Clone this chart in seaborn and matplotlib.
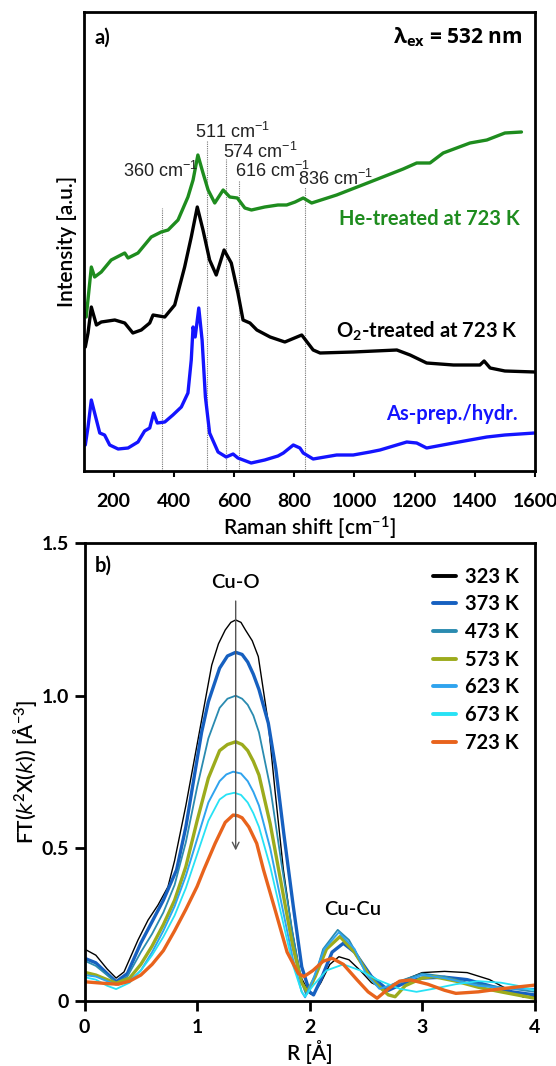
import matplotlib
matplotlib.use("Agg")
import numpy as np
import pandas as pd
import seaborn as sns
import matplotlib.pyplot as plt
from matplotlib.lines import Line2D

# ---------------- Panel a data (Raman) ----------------
he_shift = [109, 126, 137, 159, 192, 237, 248, 281, 325, 358, 381, 414, 447, 464, 480, 497, 514,
            536, 564, 586, 611, 636, 658, 702, 746, 775, 803, 830, 858, 941, 1052, 1162, 1207,
            1251, 1295, 1384, 1440, 1500, 1555]
he_int = [154, 204, 194, 199, 211, 218, 213, 218, 234, 239, 241, 251, 274, 291, 316, 298, 281,
          268, 281, 274, 273, 263, 261, 264, 266, 266, 269, 273, 268, 276, 289, 302, 308,
          308, 318, 328, 331, 338, 339]

o2_shift = [106, 115, 126, 143, 159, 204, 237, 264, 292, 320, 331, 370, 403, 436, 458, 478, 497,
            519, 541, 567, 591, 613, 630, 653, 676, 720, 769, 825, 863, 886, 996, 1141, 1185,
            1240, 1329, 1417, 1431, 1451, 1500, 1599]
o2_int = [124, 138, 164, 146, 149, 151, 148, 138, 141, 148, 156, 154, 166, 204, 234, 264, 241,
          211, 196, 221, 208, 178, 151, 148, 141, 134, 129, 136, 121, 118, 119, 121, 116,
          108, 106, 106, 110, 103, 100, 99]

ap_shift = [106, 115, 126, 137, 154, 170, 187, 215, 248, 281, 303, 320, 333, 345, 370, 397, 425,
            447, 458, 464, 471, 483, 494, 505, 519, 547, 574, 597, 613, 657, 702, 746, 764,
            797, 819, 830, 863, 941, 996, 1052, 1085, 1174, 1207, 1240, 1329, 1384, 1440,
            1500, 1599]
ap_int = [26, 44, 71, 58, 38, 36, 26, 22, 23, 29, 40, 43, 58, 48, 49, 56, 64,
          78, 111, 144, 134, 163, 131, 74, 38, 19, 14, 17, 13, 8, 11, 15, 18,
          26, 23, 18, 12, 16, 16, 19, 21, 29, 28, 23, 28, 31, 34,
          36, 38]

peak_pos = [360, 511, 574, 616, 836]
peak_top = [263, 331, 312, 291, 284]
peak_lbl_x = [231, 470, 563, 602, 814]
peak_lbl_y = [294, 333, 313, 294, 286]

raman_ticks = [200, 400, 600, 800, 1000, 1200, 1400, 1600]

# ---------------- Panel b data (EXAFS FT) ----------------
temps = ["323 K", "373 K", "473 K", "573 K", "623 K", "673 K", "723 K"]

r_323 = [0, 0.1, 0.2, 0.28, 0.35, 0.475, 0.564, 0.652, 0.741, 0.8, 0.9, 1.0, 1.13, 1.19, 1.25, 1.30,
         1.343, 1.39, 1.43, 1.49, 1.544, 1.633, 1.692, 1.767, 1.84, 1.92, 2.0, 2.03, 2.1, 2.18,
         2.26, 2.35, 2.45, 2.55, 2.68, 2.85, 3.0, 3.2, 3.4, 3.6, 3.8, 3.9, 4.0]
ft_323 = [0.170, 0.150, 0.105, 0.075, 0.095, 0.20, 0.265, 0.314, 0.374, 0.46, 0.64, 0.84, 1.10, 1.17, 1.215, 1.24,
          1.248, 1.24, 1.215, 1.18, 1.128, 0.91, 0.691, 0.43, 0.24, 0.08, 0.025, 0.02, 0.06, 0.12,
          0.145, 0.135, 0.10, 0.06, 0.036, 0.07, 0.093, 0.097, 0.093, 0.07, 0.03, 0.013, 0.015]

r_373 = [0, 0.1, 0.2, 0.28, 0.38, 0.5, 0.6, 0.7, 0.818, 0.9, 1.04, 1.1, 1.2, 1.27, 1.343, 1.40,
         1.45, 1.5, 1.55, 1.633, 1.7, 1.77, 1.855, 1.93, 2.0, 2.035, 2.1, 2.2, 2.3, 2.4, 2.55,
         2.7, 2.85, 3.0, 3.2, 3.4, 3.6, 3.8, 4.0]
ft_373 = [0.140, 0.125, 0.09, 0.063, 0.09, 0.19, 0.26, 0.33, 0.43, 0.57, 0.88, 0.98, 1.09, 1.13, 1.142, 1.135,
          1.11, 1.07, 1.02, 0.91, 0.76, 0.55, 0.31, 0.112, 0.03, 0.02, 0.07, 0.16, 0.189, 0.16, 0.08,
          0.035, 0.06, 0.075, 0.078, 0.07, 0.05, 0.03, 0.02]

r_473 = [0, 0.1, 0.2, 0.28, 0.38, 0.5, 0.6, 0.7, 0.8, 0.9, 1.0, 1.1, 1.2, 1.27, 1.343, 1.40,
         1.45, 1.5, 1.55, 1.65, 1.75, 1.85, 1.93, 1.97, 2.03, 2.12, 2.25, 2.35, 2.5, 2.65, 2.8,
         3.0, 3.2, 3.4, 3.6, 3.8, 4.0]
ft_473 = [0.132, 0.115, 0.085, 0.06, 0.08, 0.16, 0.22, 0.29, 0.38, 0.52, 0.70, 0.86, 0.96, 0.99, 1.0, 0.99,
          0.97, 0.935, 0.88, 0.70, 0.45, 0.22, 0.06, 0.02, 0.06, 0.17, 0.233, 0.20, 0.10, 0.04, 0.065,
          0.09, 0.08, 0.06, 0.05, 0.04, 0.03]

r_573 = [0, 0.1, 0.2, 0.28, 0.4, 0.5, 0.6, 0.7, 0.8, 0.9, 1.0, 1.1, 1.2, 1.27, 1.343, 1.40,
         1.45, 1.5, 1.55, 1.65, 1.75, 1.85, 1.93, 1.98, 2.05, 2.15, 2.27, 2.4, 2.55, 2.7, 2.76,
         2.85, 3.0, 3.1, 3.3, 3.5, 3.7, 4.0]
ft_573 = [0.094, 0.085, 0.07, 0.058, 0.075, 0.12, 0.18, 0.25, 0.33, 0.44, 0.59, 0.73, 0.82, 0.84, 0.849, 0.84,
          0.82, 0.785, 0.74, 0.58, 0.38, 0.18, 0.06, 0.03, 0.08, 0.17, 0.211, 0.16, 0.07, 0.02, 0.014,
          0.05, 0.075, 0.08, 0.065, 0.045, 0.03, 0.009]

r_623 = [0, 0.1, 0.2, 0.28, 0.4, 0.5, 0.6, 0.7, 0.8, 0.9, 1.0, 1.1, 1.2, 1.26, 1.32, 1.39,
         1.45, 1.5, 1.55, 1.65, 1.75, 1.85, 1.93, 1.96, 2.03, 2.13, 2.26, 2.4, 2.5, 2.62, 2.8,
         3.0, 3.2, 3.5, 3.8, 4.0]
ft_623 = [0.085, 0.08, 0.065, 0.053, 0.065, 0.10, 0.16, 0.23, 0.31, 0.41, 0.53, 0.65, 0.72, 0.742, 0.751, 0.745,
          0.72, 0.685, 0.64, 0.50, 0.32, 0.14, 0.03, 0.012, 0.07, 0.17, 0.225, 0.17, 0.09, 0.04, 0.06,
          0.085, 0.075, 0.05, 0.04, 0.04]

r_673 = [0, 0.1, 0.2, 0.28, 0.4, 0.5, 0.6, 0.7, 0.8, 0.9, 1.0, 1.1, 1.2, 1.26, 1.33, 1.39,
         1.45, 1.5, 1.55, 1.65, 1.75, 1.85, 1.93, 1.96, 2.03, 2.15, 2.3, 2.45, 2.6, 2.8, 2.95,
         3.1, 3.3, 3.5, 3.7, 3.85, 4.0]
ft_673 = [0.078, 0.07, 0.05, 0.039, 0.06, 0.10, 0.15, 0.21, 0.28, 0.37, 0.48, 0.59, 0.66, 0.676, 0.682, 0.675,
          0.65, 0.615, 0.57, 0.44, 0.28, 0.12, 0.03, 0.015, 0.05, 0.10, 0.12, 0.10, 0.07, 0.04, 0.03,
          0.04, 0.055, 0.065, 0.06, 0.05, 0.035]

r_723 = [0, 0.1, 0.2, 0.3, 0.4, 0.5, 0.6, 0.7, 0.8, 0.9, 1.0, 1.06, 1.16, 1.25, 1.32, 1.36,
         1.4, 1.46, 1.53, 1.59, 1.7, 1.8, 1.9, 1.95, 2.03, 2.12, 2.2, 2.3, 2.42, 2.52, 2.6,
         2.7, 2.8, 2.9, 3.05, 3.2, 3.3, 3.5, 3.7, 4.0]
ft_723 = [0.063, 0.06, 0.057, 0.055, 0.065, 0.085, 0.12, 0.165, 0.23, 0.30, 0.375, 0.43, 0.516, 0.585, 0.609, 0.607,
          0.60, 0.57, 0.516, 0.43, 0.29, 0.16, 0.09, 0.08, 0.10, 0.13, 0.14, 0.12, 0.07, 0.03, 0.009,
          0.04, 0.065, 0.069, 0.055, 0.035, 0.025, 0.03, 0.04, 0.052]

ft_r = [r_323, r_373, r_473, r_573, r_623, r_673, r_723]
ft_v = [ft_323, ft_373, ft_473, ft_573, ft_623, ft_673, ft_723]
ft_colors = ["#000000", "#1660c0", "#2a8bb0", "#9cab1c", "#2fa3ee", "#27e2f5", "#e8631c"]
ft_widths = [1.0, 2.4, 1.3, 2.4, 1.4, 1.3, 2.4]

exafs_xticks = [0, 1, 2, 3, 4]
exafs_yticks = [0, 0.5, 1.0, 1.5]
exafs_ylabels = ["0", "0.5", "1.0", "1.5"]

# ---------------- Style ----------------
sns.set_theme(style="white")
plt.rcParams["font.family"] = ["Lato", "DejaVu Sans"]
plt.rcParams["mathtext.fontset"] = "dejavusans"
plt.rcParams["mathtext.default"] = "regular"
for key in ("text.color", "axes.labelcolor", "xtick.color", "ytick.color"):
    plt.rcParams[key] = "black"

W, H = 556, 1066
fig = plt.figure(figsize=(W / 100, H / 100), dpi=100)
axa = fig.add_axes([83.5 / W, 1 - 471 / H, (535 - 83.5) / W, (471 - 12) / H])
axb = fig.add_axes([84.6 / W, 1 - 1001 / H, (534.6 - 84.6) / W, (1001 - 543) / H])

for ax in (axa, axb):
    for sp in ax.spines.values():
        sp.set_linewidth(2.0)
        sp.set_color("black")

TF = 14.5   # annotation / legend text
TK = 14     # tick labels
LF = 15     # axis labels

# ---------------- Panel a ----------------
axa.vlines(peak_pos, 0, peak_top, colors="#777777", linestyles=(0, (1, 1)), linewidth=0.8, zorder=1)
df_he = pd.DataFrame({"x": he_shift, "y": he_int})
df_o2 = pd.DataFrame({"x": o2_shift, "y": o2_int})
df_ap = pd.DataFrame({"x": ap_shift, "y": ap_int})
sns.lineplot(data=df_he, x="x", y="y", ax=axa, color="#1e8c1e", lw=2.4, estimator=None)
sns.lineplot(data=df_o2, x="x", y="y", ax=axa, color="#000000", lw=2.4, estimator=None)
sns.lineplot(data=df_ap, x="x", y="y", ax=axa, color="#1414ff", lw=2.4, estimator=None)

for px, py, pv in zip(peak_lbl_x, peak_lbl_y, peak_pos):
    axa.text(px, py, f"{pv} cm$^{{-1}}$", fontsize=13, family="Liberation Sans",
             ha="left", va="baseline", color="#222222")

axa.set_xlim(100, 1600)
axa.set_ylim(0, 459)
axa.set_yticks([])
axa.set_xticks(raman_ticks)
axa.set_xticklabels([str(t) for t in raman_ticks], fontsize=TK, fontweight="bold")
axa.tick_params(axis="x", direction="out", length=4, width=1.5, pad=12, bottom=True)
axa.set_xlabel("Raman shift [cm$^{-1}$]", fontsize=LF, fontweight="semibold", labelpad=3)
axa.set_ylabel("Intensity [a.u.]", fontsize=LF, fontweight="semibold", labelpad=5)

axa.text(0.025, 0.932, "a)", transform=axa.transAxes, fontsize=TF, fontweight="bold", va="baseline")
axa.text(0.973, 0.932, "λ$_{ex}$ = 532 nm", transform=axa.transAxes, fontsize=15,
         fontweight="bold", family="Open Sans", ha="right", va="baseline")
axa.text(0.967, 0.536, "He-treated at 723 K", transform=axa.transAxes, fontsize=TF,
         fontweight="bold", color="#1e8c1e", ha="right", va="baseline")
axa.text(0.962, 0.290, "O$_2$-treated at 723 K", transform=axa.transAxes, fontsize=TF,
         fontweight="bold", color="black", ha="right", va="baseline")
axa.text(0.962, 0.111, "As-prep./hydr.", transform=axa.transAxes, fontsize=TF,
         fontweight="bold", color="#1414ff", ha="right", va="baseline")

# ---------------- Panel b ----------------
handles = []
for r, v, c, lw, lab in zip(ft_r, ft_v, ft_colors, ft_widths, temps):
    sns.lineplot(x=r, y=v, ax=axb, color=c, lw=lw, estimator=None)
    handles.append(Line2D([0], [0], color=c, lw=2.8, label=lab))

axb.annotate("", xy=(1.343, 0.484), xytext=(1.343, 1.319),
             arrowprops=dict(arrowstyle="->", color="#555555", lw=1.0, mutation_scale=12))
axb.text(1.345, 1.353, "Cu-O", fontsize=TF, fontweight="semibold", ha="center", va="baseline")
axb.text(2.38, 0.282, "Cu-Cu", fontsize=TF, fontweight="semibold", ha="center", va="baseline")
axb.text(0.023, 0.937, "b)", transform=axb.transAxes, fontsize=TF, fontweight="bold", va="baseline")

leg = axb.legend(handles=handles, loc="upper left", bbox_to_anchor=(0.775, 0.948),
                 frameon=False, handlelength=1.1, handletextpad=0.45, labelspacing=0.38,
                 borderaxespad=0, borderpad=0, prop={"size": TF, "weight": "bold"})

axb.set_xlim(0, 4)
axb.set_ylim(0, 1.5)
axb.set_xticks(exafs_xticks)
axb.set_xticklabels([str(t) for t in exafs_xticks], fontsize=TK, fontweight="bold")
axb.set_yticks(exafs_yticks)
axb.set_yticklabels(exafs_ylabels, fontsize=TK, fontweight="bold")
axb.tick_params(axis="both", direction="out", length=7, width=2, pad=4, bottom=True, left=True)
axb.tick_params(axis="x", pad=6)
axb.set_xlabel("R [Å]", fontsize=LF, fontweight="semibold", labelpad=3)
axb.set_ylabel("FT($\\it{k}$$^2$X($\\it{k}$)) [Å$^{-3}$]", fontsize=LF, fontweight="semibold", labelpad=2)

fig.savefig("out.png", dpi=100)
